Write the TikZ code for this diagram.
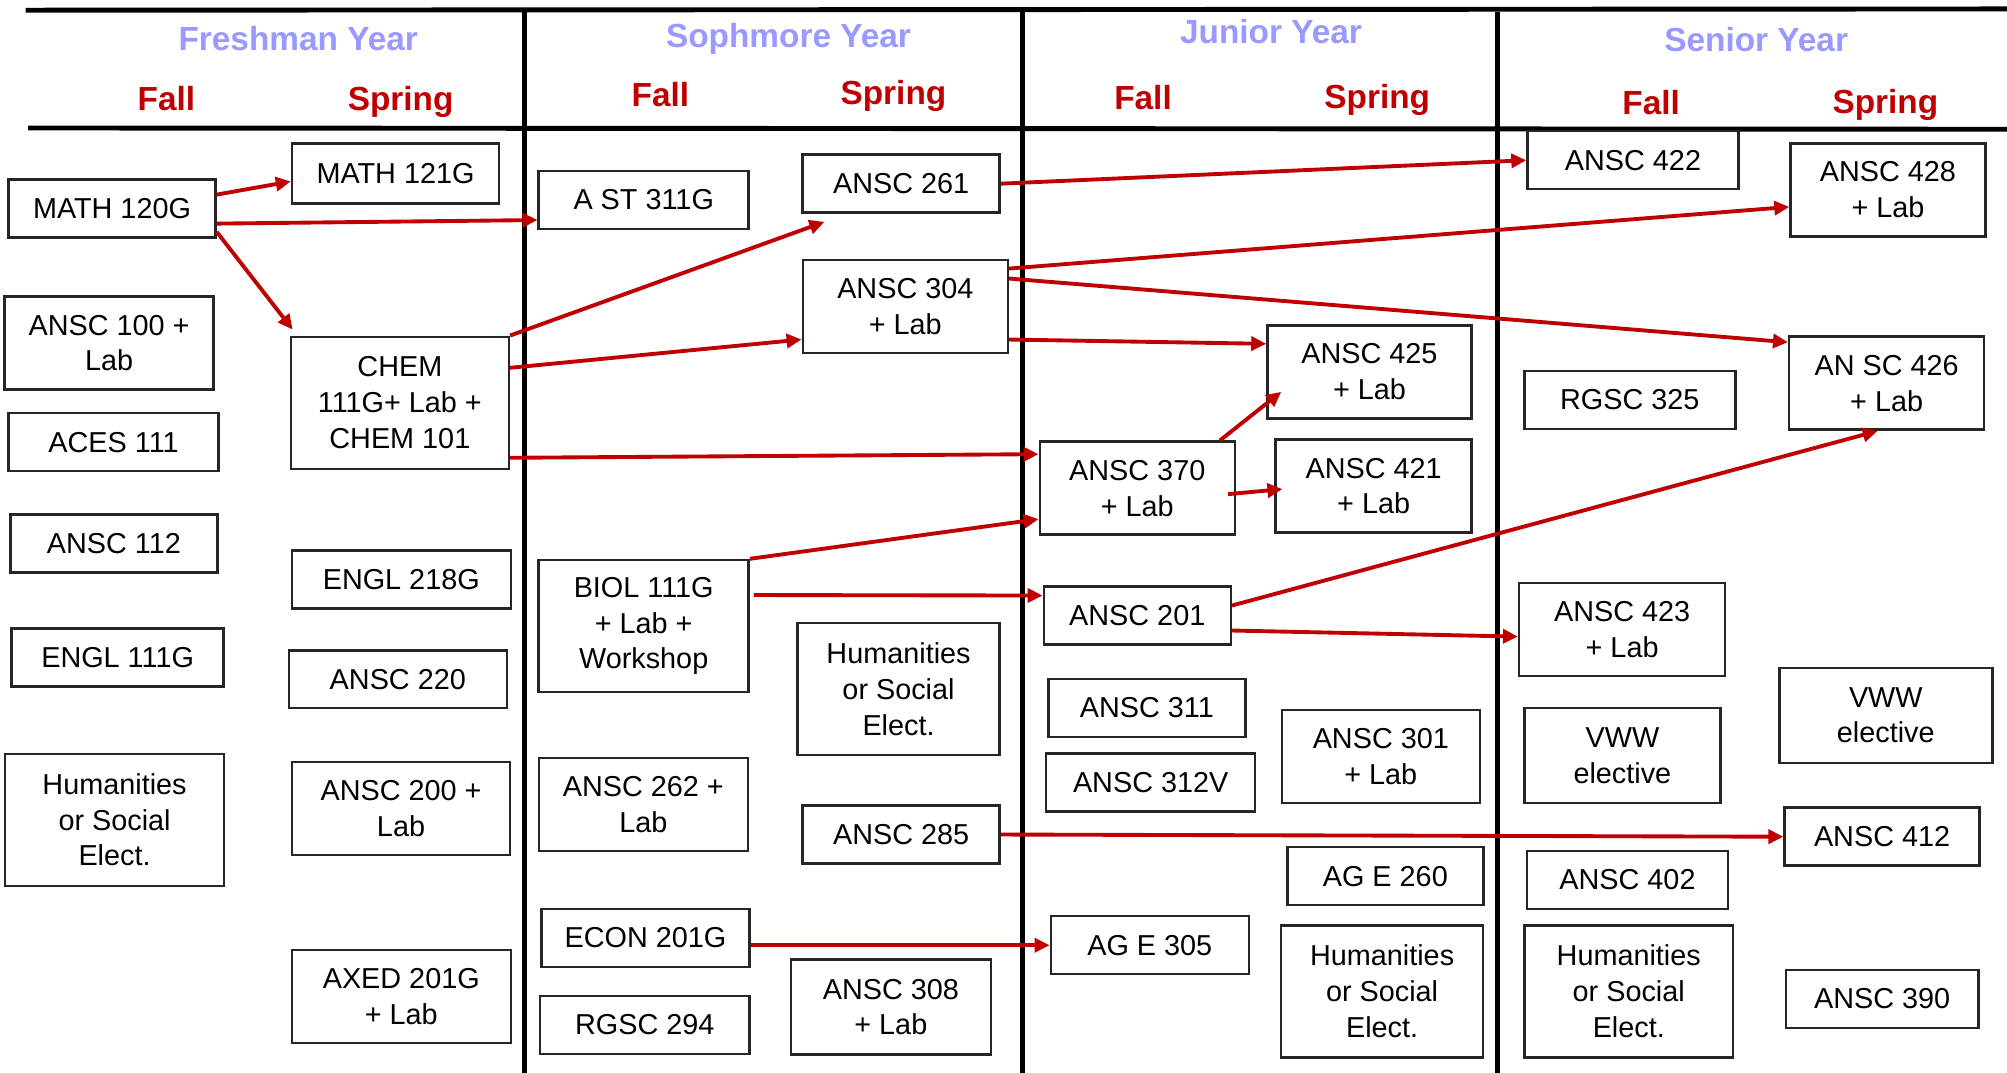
\documentclass[tikz,border=0pt]{standalone}
\usepackage{fontspec}
\setmainfont{Liberation Sans}
\usetikzlibrary{arrows.meta}
\definecolor{yearblue}{HTML}{9999FF}
\definecolor{termred}{HTML}{C00000}
\definecolor{linkred}{HTML}{C00000}
\tikzset{
  course/.style={draw=black!85, line width=0.7pt, align=center, inner sep=1pt,
    font=\fontsize{8.2}{10.2}\selectfont, minimum height=0.58cm},
  twoline/.style={course, minimum height=0.93cm},
  threeline/.style={course, minimum height=1.32cm},
  yearlbl/.style={font=\bfseries\fontsize{9.5}{11}\selectfont, text=yearblue},
  termlbl/.style={font=\bfseries\fontsize{9.5}{11}\selectfont, text=termred},
  gridline/.style={line width=1.4pt},
  arr/.style={-{Triangle[length=1.5mm, width=1.4mm]}, line width=1.1pt, draw=linkred}
}
\begin{document}
\begin{tikzpicture}[x=0.0128cm, y=-0.0128cm]
  \useasboundingbox (0,0) rectangle (1568,838);
  % table rules
  \draw[gridline] (20,8) -- (1568,7);
  \draw[gridline] (22,100) -- (1568,101);
  \draw[gridline] (410,8) -- (410,838);
  \draw[gridline] (799,6) -- (799,838);
  \draw[gridline] (1170,9) -- (1170,838);

  % years and terms
  \node[yearlbl] (fresh) at (233,30) {Freshman Year};
  \node[yearlbl] (soph) at (616,30) {Sophmore Year};
  \node[yearlbl] (junior) at (993,25) {Junior Year};
  \node[yearlbl] (senior) at (1372,31) {Senior Year};
  \node[termlbl] (freshfall) at (130,77) {Fall};
  \node[termlbl] (freshspring) at (313,80) {Spring};
  \node[termlbl] (sophfall) at (516,74) {Fall};
  \node[termlbl] (sophspring) at (698,75) {Spring};
  \node[termlbl] (juniorfall) at (893,76) {Fall};
  \node[termlbl] (juniorspring) at (1076,78) {Spring};
  \node[termlbl] (seniorfall) at (1290,80) {Fall};
  \node[termlbl] (seniorspring) at (1473,82) {Spring};

  % freshman fall
  \node[course, minimum width=2.07cm] (math120) at (87.5,163) {MATH 120G};
  \node[twoline, minimum width=2.09cm] (ansc100) at (85.2,268) {ANSC 100 +\\Lab};
  \node[course, minimum width=2.1cm] (aces111) at (88.7,345.5) {ACES 111};
  \node[course, minimum width=2.07cm] (ansc112) at (89,424.5) {ANSC 112};
  \node[course, minimum width=2.12cm] (engl111) at (91.9,513.8) {ENGL 111G};
  \node[threeline, minimum width=2.19cm] (humfresh) at (89.5,640.5) {Humanities\\or Social\\Elect.};
  % freshman spring
  \node[course, minimum width=2.07cm, minimum height=0.6cm] (math121) at (309,135.5) {MATH 121G};
  \node[threeline, minimum width=2.18cm] (chem) at (312.4,314.7) {CHEM\\111G+ Lab +\\CHEM 101};
  \node[course, minimum width=2.19cm] (engl218) at (313.5,452.8) {ENGL 218G};
  \node[course, minimum width=2.18cm] (ansc220) at (310.8,530.7) {ANSC 220};
  \node[twoline, minimum width=2.18cm] (ansc200) at (313.3,631.7) {ANSC 200 +\\Lab};
  \node[twoline, minimum width=2.19cm] (axed) at (313.5,778.5) {AXED 201G\\+ Lab};

  % sophomore fall
  \node[course, minimum width=2.1cm] (ast311) at (502.9,156.3) {A ST 311G};
  \node[threeline, minimum width=2.1cm] (biol) at (502.9,489.1) {BIOL 111G\\+ Lab +\\Workshop};
  \node[twoline, minimum width=2.09cm] (ansc262) at (502.6,628.4) {ANSC 262 +\\Lab};
  \node[course, minimum width=2.08cm] (econ) at (504.3,732.8) {ECON 201G};
  \node[course, minimum width=2.1cm] (rgsc294) at (503.7,800.8) {RGSC 294};
  % sophomore spring
  \node[course, minimum width=1.97cm] (ansc261) at (704,143.5) {ANSC 261};
  \node[twoline, minimum width=2.05cm] (ansc304) at (707.3,239.5) {ANSC 304\\+ Lab};
  \node[threeline, minimum width=2.02cm] (humsoph) at (702,538.5) {Humanities\\or Social\\Elect.};
  \node[course, minimum width=1.97cm] (ansc285) at (704,652) {ANSC 285};
  \node[twoline, minimum width=2cm, minimum height=0.95cm] (ansc308) at (696,786.8) {ANSC 308\\+ Lab};

  % junior fall
  \node[twoline, minimum width=1.95cm] (ansc370) at (888.5,381.4) {ANSC 370\\+ Lab};
  \node[course, minimum width=1.87cm] (ansc201) at (888.5,480.9) {ANSC 201};
  \node[course, minimum width=1.97cm] (ansc311) at (896,553.2) {ANSC 311};
  \node[course, minimum width=2.09cm] (ansc312) at (899,611.4) {ANSC 312V};
  \node[course, minimum width=1.98cm] (age305) at (898.3,738.5) {AG E 305};
  % junior spring
  \node[twoline, minimum width=2.04cm] (ansc425) at (1069.9,290.5) {ANSC 425\\+ Lab};
  \node[twoline, minimum width=1.96cm] (ansc421) at (1073.2,379.8) {ANSC 421\\+ Lab};
  \node[twoline, minimum width=1.98cm] (ansc301) at (1078.8,591.2) {ANSC 301\\+ Lab};
  \node[course, minimum width=1.96cm] (age260) at (1082.3,684.5) {AG E 260};
  \node[threeline, minimum width=2.02cm] (humjunior) at (1079.8,774.6) {Humanities\\or Social\\Elect.};

  % senior fall
  \node[course, minimum width=2.11cm] (ansc422) at (1275.8,125.2) {ANSC 422};
  \node[course, minimum width=2.11cm] (rgsc325) at (1273.3,312.5) {RGSC 325};
  \node[twoline, minimum width=2.06cm] (ansc423) at (1267.3,491.9) {ANSC 423\\+ Lab};
  \node[twoline, minimum width=1.96cm, minimum height=0.95cm] (vwwfall) at (1267.5,590.4) {VWW\\elective};
  \node[course, minimum width=2.01cm] (ansc402) at (1271.5,687.5) {ANSC 402};
  \node[threeline, minimum width=2.09cm] (humsenior) at (1272.5,774.6) {Humanities\\or Social\\Elect.};
  % senior spring
  \node[twoline, minimum width=1.95cm] (ansc428) at (1475,148.4) {ANSC 428\\+ Lab};
  \node[twoline, minimum width=1.95cm] (ansc426) at (1474,299.4) {AN SC 426\\+ Lab};
  \node[twoline, minimum width=2.13cm, minimum height=0.95cm] (vwwspring) at (1473.3,558.8) {VWW\\elective};
  \node[course, minimum width=1.95cm] (ansc412) at (1470.4,653.7) {ANSC 412};
  \node[course, minimum width=1.93cm] (ansc390) at (1470.5,780.4) {ANSC 390};

  % prerequisites
  \draw[arr] ([yshift=0.14cm]math120.east) -- ([yshift=-0.08cm]math121.west);
  \draw[arr] ([yshift=-0.15cm]math120.east) -- ([yshift=-0.2cm]ast311.west);
  \draw[arr] ([yshift=0.07cm]math120.south east) -- ([xshift=0.03cm,yshift=0.06cm]chem.north west);
  \draw[arr] (chem.north east) -- ([xshift=0.23cm,yshift=-0.08cm]ansc261.south west);
  \draw[arr] ([yshift=0.35cm]chem.east) -- ([yshift=-0.33cm]ansc304.west);
  \draw[arr] ([yshift=-0.55cm]chem.east) -- ([yshift=0.34cm]ansc370.west);
  \draw[arr] (biol.north east) -- ([yshift=-0.31cm]ansc370.west);
  \draw[arr] ([xshift=0.04cm,yshift=0.31cm]biol.east) -- ([yshift=0.2cm]ansc201.west);
  \draw[arr] (econ.east |- age305.west) -- (age305.west);
  \draw[arr] (ansc261.east) -- (ansc422.west);
  \draw[arr] ([yshift=0.38cm]ansc304.east) -- ([yshift=-0.17cm]ansc428.west);
  \draw[arr] ([yshift=0.28cm]ansc304.east) -- ([yshift=0.41cm]ansc426.west);
  \draw[arr] ([yshift=-0.33cm]ansc304.east) -- ([yshift=0.28cm]ansc425.west);
  \draw[arr] ([xshift=-0.16cm]ansc370.north east) -- ([xshift=0.15cm,yshift=-0.2cm]ansc425.west);
  \draw[arr] ([xshift=-0.08cm,yshift=-0.06cm]ansc370.east) -- ([xshift=0.08cm,yshift=-0.03cm]ansc421.west);
  \draw[arr] ([yshift=0.1cm]ansc201.east) -- ([xshift=-0.09cm]ansc426.south);
  \draw[arr] ([yshift=-0.15cm]ansc201.east) -- ([yshift=-0.07cm]ansc423.west);
  \draw[arr] (ansc285.east) -- (ansc412.west);
\end{tikzpicture}
\end{document}
